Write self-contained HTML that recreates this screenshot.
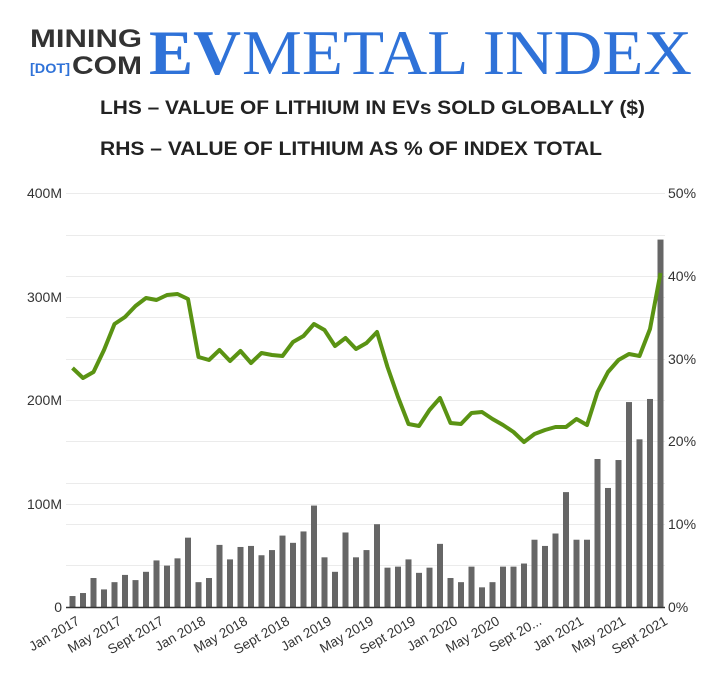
<!DOCTYPE html>
<html><head><meta charset="utf-8"><style>
body{margin:0;background:#fff;}
svg{display:block;font-family:"Liberation Sans",sans-serif;}
</style></head><body>
<svg width="727" height="676" viewBox="0 0 727 676" xmlns="http://www.w3.org/2000/svg">
<rect width="727" height="676" fill="#fff"/>
<text x="30" y="47" font-size="25" font-weight="bold" fill="#333" textLength="112" lengthAdjust="spacingAndGlyphs">MINING</text>
<text x="30" y="73" font-size="14" fill="#2f72d8" font-weight="bold" textLength="40" lengthAdjust="spacingAndGlyphs">[DOT]</text>
<text x="72" y="74" font-size="25" font-weight="bold" fill="#333" textLength="70" lengthAdjust="spacingAndGlyphs">COM</text>
<text x="149" y="74" font-family="Liberation Serif,serif" font-size="64" font-weight="bold" fill="#2f72d8" textLength="92" lengthAdjust="spacingAndGlyphs">EV</text>
<text x="242" y="74" font-family="Liberation Serif,serif" font-size="64" fill="#2f72d8" textLength="450" lengthAdjust="spacingAndGlyphs">METAL INDEX</text>
<text x="100" y="114" font-size="19" font-weight="bold" fill="#222" textLength="545" lengthAdjust="spacingAndGlyphs">LHS – VALUE OF LITHIUM IN EVs SOLD GLOBALLY ($)</text>
<text x="100" y="155" font-size="19" font-weight="bold" fill="#222" textLength="502" lengthAdjust="spacingAndGlyphs">RHS – VALUE OF LITHIUM AS % OF INDEX TOTAL</text>
<g stroke="#ebebeb" stroke-width="1">
<line x1="66" x2="665" y1="193.5" y2="193.5"/><line x1="66" x2="665" y1="297.5" y2="297.5"/><line x1="66" x2="665" y1="400.5" y2="400.5"/><line x1="66" x2="665" y1="504.5" y2="504.5"/>
<line x1="66" x2="665" y1="235.5" y2="235.5"/><line x1="66" x2="665" y1="276.5" y2="276.5"/><line x1="66" x2="665" y1="317.5" y2="317.5"/><line x1="66" x2="665" y1="359.5" y2="359.5"/><line x1="66" x2="665" y1="441.5" y2="441.5"/><line x1="66" x2="665" y1="483.5" y2="483.5"/><line x1="66" x2="665" y1="524.5" y2="524.5"/><line x1="66" x2="665" y1="565.5" y2="565.5"/>
</g>
<g font-size="14" fill="#333">
<text x="62" y="198" text-anchor="end">400M</text>
<text x="62" y="302" text-anchor="end">300M</text>
<text x="62" y="405" text-anchor="end">200M</text>
<text x="62" y="509" text-anchor="end">100M</text>
<text x="62" y="612" text-anchor="end">0</text>
<text x="668" y="198">50%</text>
<text x="668" y="281">40%</text>
<text x="668" y="364">30%</text>
<text x="668" y="446">20%</text>
<text x="668" y="529">10%</text>
<text x="668" y="612">0%</text>
</g>
<g id="bars" fill="#666"></g>
<line x1="66" x2="665" y1="607.5" y2="607.5" stroke="#333" stroke-width="1.5"/>
<polyline id="line" fill="none" stroke="#5a9313" stroke-width="4" stroke-linejoin="round"/>
<g id="xl" font-size="13.5" fill="#333"></g>
</svg>
<script>
var v=[10.6,13.5,28,17,24,31,26,34,45,40,47,67,24,28,60,46,58,59,50,55,69,62,73,98,48,34,72,48,55,80,38,39,46,33,38,61,28,24,39,19,24,39,39,42,65,59,71,111,65,65,143,115,142,198,162,201,355];
var ly=[368,378,372,350,324,317,306,298,300,295,294,299,357,360,350,361,351,363,353,355,356,342,336,324,330,346,338,349,343,332,367,397,424,426,410,398,423,424,413,412,419,425,432,442,434,430,427,427,419,425,392,372,360,354,356,329,273];
var ns="http://www.w3.org/2000/svg",b=document.getElementById("bars"),pts=[];
for(var i=0;i<57;i++){var cx=72.5+i*10.5;var h=v[i]*1.035;var r=document.createElementNS(ns,"rect");
r.setAttribute("x",cx-3);r.setAttribute("width",6);r.setAttribute("y",607-h);r.setAttribute("height",h);b.appendChild(r);pts.push(cx+","+ly[i]);}
document.getElementById("line").setAttribute("points",pts.join(" "));
var L=["Jan 2017","May 2017","Sept 2017","Jan 2018","May 2018","Sept 2018","Jan 2019","May 2019","Sept 2019","Jan 2020","May 2020","Sept 20...","Jan 2021","May 2021","Sept 2021"];
var g=document.getElementById("xl");
for(var k=0;k<L.length;k++){var cx=72.5+k*4*10.5;var t=document.createElementNS(ns,"text");
t.setAttribute("transform","translate("+(cx+3)+",615) rotate(-30)");t.setAttribute("text-anchor","end");t.setAttribute("dy","10");t.textContent=L[k];g.appendChild(t);}
</script>
</body></html>
